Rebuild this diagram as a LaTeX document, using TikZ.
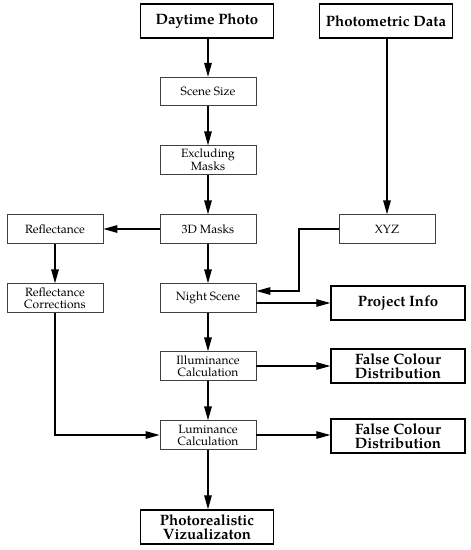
\documentclass[tikz,border=0pt]{standalone}
\usepackage{fontspec}
\setmainfont{TeX Gyre Pagella}
\usetikzlibrary{arrows.meta}
\tikzset{
  thinbox/.style={draw=black!75, line width=0.8pt, minimum width=96pt, minimum height=28.5pt, inner sep=0pt, align=center, font=\fontsize{12}{12}\selectfont},
  boldbox/.style={draw=black, line width=1.4pt, minimum width=133pt, minimum height=34pt, inner sep=0pt, align=center, font=\fontsize{15}{13.5}\selectfont\bfseries},
  flow/.style={line width=1.3pt, -{Triangle[length=14pt,width=7.5pt]}}
}
\begin{document}
\begin{tikzpicture}[x=1pt,y=-1pt]
\useasboundingbox (0,0) rectangle (471,550);
\node[boldbox] (day) at (207,21) {Daytime Photo};
\node[boldbox] (phot) at (386,21) {Photometric Data};
\node[thinbox] (scene) at (208,91.5) {Scene Size};
\node[thinbox] (excl) at (208,160) {Excluding\\Masks};
\node[thinbox] (refl) at (55,229) {Reflectance};
\node[thinbox] (mask) at (208,229) {3D Masks};
\node[thinbox] (xyz) at (387,229) {XYZ};
\node[thinbox] (rcorr) at (55,298) {Reflectance\\Corrections};
\node[thinbox] (night) at (208,298) {Night Scene};
\node[boldbox, minimum width=134pt] (proj) at (398,303) {Project Info};
\node[thinbox] (illum) at (208,366) {Illuminance\\Calculation};
\node[boldbox, minimum width=134pt] (fc1) at (398,366) {False Colour\\Distribution};
\node[thinbox] (lum) at (208,435) {Luminance\\Calculation};
\node[boldbox, minimum width=134pt] (fc2) at (398,436) {False Colour\\Distribution};
\node[boldbox] (photo) at (207,527) {Photorealistic\\Vizualizaton};
\coordinate (k1) at (299,229);
\coordinate (k2) at (299,291);
\coordinate (k3) at (55,435);
\draw[flow] (day.south -| scene) -- (scene);
\draw[flow] (scene) -- (excl);
\draw[flow] (excl) -- (mask);
\draw[flow] (mask) -- (refl);
\draw[flow] (refl) -- (rcorr);
\draw[flow] (mask) -- (night);
\draw[flow] (phot.south -| xyz) -- (xyz);
\draw[flow] (xyz.west) -- (k1) -- (k2) -- (k2 -| night.east);
\draw[flow] (night.east |- proj) -- (proj);
\draw[flow] (night) -- (illum);
\draw[flow] (illum) -- (fc1);
\draw[flow] (illum) -- (lum);
\draw[flow] (rcorr) -- (k3) -- (lum);
\draw[flow] (lum) -- (fc2.west |- lum);
\draw[flow] (lum) -- (photo.north -| lum);
\end{tikzpicture}
\end{document}
